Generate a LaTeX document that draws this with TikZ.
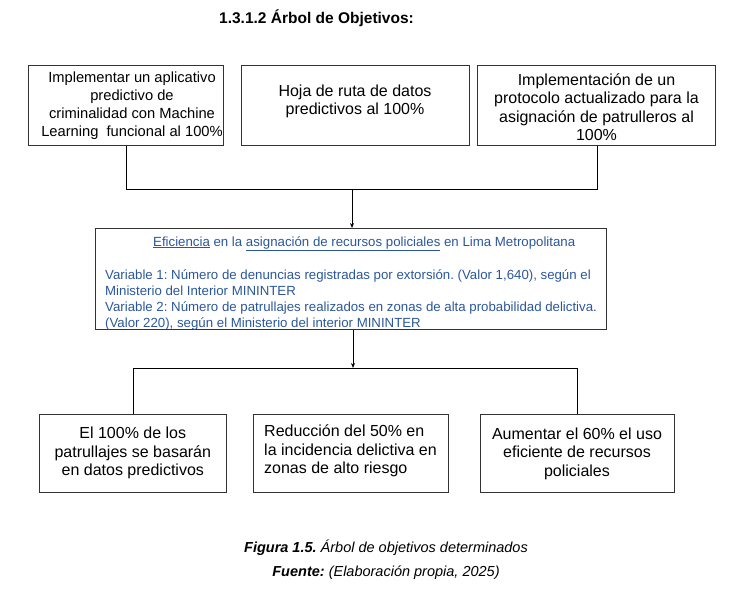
\documentclass[tikz,border=0pt]{standalone}
\usepackage{fontspec}
\setmainfont{Liberation Sans}
\usetikzlibrary{arrows.meta}
\definecolor{varblue}{HTML}{2B579A}
\definecolor{boxline}{HTML}{333333}
\frenchspacing
\begin{document}
\begin{tikzpicture}[x=1pt,y=-1pt,
  box/.style={draw=boxline,line width=1pt,rectangle,inner sep=0pt},
  txt/.style={font=\fontsize{16}{18.5}\selectfont,align=center,inner sep=0pt},
  conn/.style={draw=black,line width=0.9pt},
  arr/.style={conn,-{Stealth[length=5pt,width=4pt]}}]
\useasboundingbox (0,0) rectangle (752,602);
% title
\node[font=\bfseries\fontsize{15.5}{17}\selectfont,anchor=west,inner sep=0pt] (title) at (219,18) {1.3.1.2 Árbol de Objetivos:};
% top boxes
\node[box,minimum width=195pt,minimum height=79pt] (a) at (125.5,105.5) {};
\node[box,minimum width=228pt,minimum height=79pt] (b) at (355,105.5) {};
\node[box,minimum width=238pt,minimum height=79pt] (c) at (596,105.5) {};
\node[txt,font=\fontsize{14.7}{18}\selectfont] (ta) at (132,106) {Implementar un aplicativo\\predictivo de\\criminalidad con Machine\\Learning\ \ funcional al 100\%};
\node[txt] (tb) at (355,101.5) {Hoja de ruta de datos\\predictivos al 100\%};
\node[txt] (tc) at (596.5,107) {Implementación de un\\protocolo actualizado para la\\asignación de patrulleros al\\100\%};
% central box
\node[box,minimum width=511pt,minimum height=101pt] (m) at (350.5,279) {};
\node[inner sep=0pt,anchor=west,align=left,text=varblue,font=\fontsize{13.25}{16}\selectfont] (tm) at (105,283) {%
\hspace*{48pt}\underline{Eficiencia} en la \underline{asignación de recursos policiales} en Lima Metropolitana\\[17pt]
Variable 1: Número de denuncias registradas por extorsión. (Valor 1,640), según el\\
Ministerio del Interior MININTER\\
Variable 2: Número de patrullajes realizados en zonas de alta probabilidad delictiva.\\
(Valor 220), según el Ministerio del interior MININTER};
% bottom boxes
\node[box,minimum width=187pt,minimum height=78pt] (d) at (132.5,453) {};
\node[box,minimum width=195pt,minimum height=78pt] (e) at (350.5,453) {};
\node[box,minimum width=194pt,minimum height=78pt] (f) at (577,453) {};
\node[txt] (td) at (132.8,453) {El 100\% de los\\patrullajes se basarán\\en datos predictivos};
\node[txt,align=left,anchor=west] (te) at (264,451) {Reducción del 50\% en\\la incidencia delictiva en\\zonas de alto riesgo};
\node[txt] (tf) at (577,453.5) {Aumentar el 60\% el uso\\eficiente de recursos\\policiales};
% connectors top
\coordinate (j1) at (126,189);
\coordinate (j2) at (597,189);
\coordinate (j3) at (352,189);
\draw[conn] (a.south -| j1) -- (j1) -- (j2) -- (c.south -| j2);
\draw[arr] (j3) -- (m.north -| j3);
% connectors bottom
\coordinate (k0) at (353,368);
\coordinate (k1) at (133,368);
\coordinate (k2) at (577,368);
\draw[arr] (m.south -| k0) -- (k0);
\draw[conn] (d.north -| k1) -- (k1) -- (k2) -- (f.north -| k2);
% caption
\node[font=\fontsize{14.5}{16}\selectfont,inner sep=0pt] (cap1) at (386,548) {\textbf{\textit{Figura 1.5.}} \textit{Árbol de objetivos determinados}};
\node[font=\fontsize{14.5}{16}\selectfont,inner sep=0pt] (cap2) at (386,573) {\textbf{\textit{Fuente:}} \textit{(Elaboración propia, 2025)}};
\end{tikzpicture}
\end{document}
